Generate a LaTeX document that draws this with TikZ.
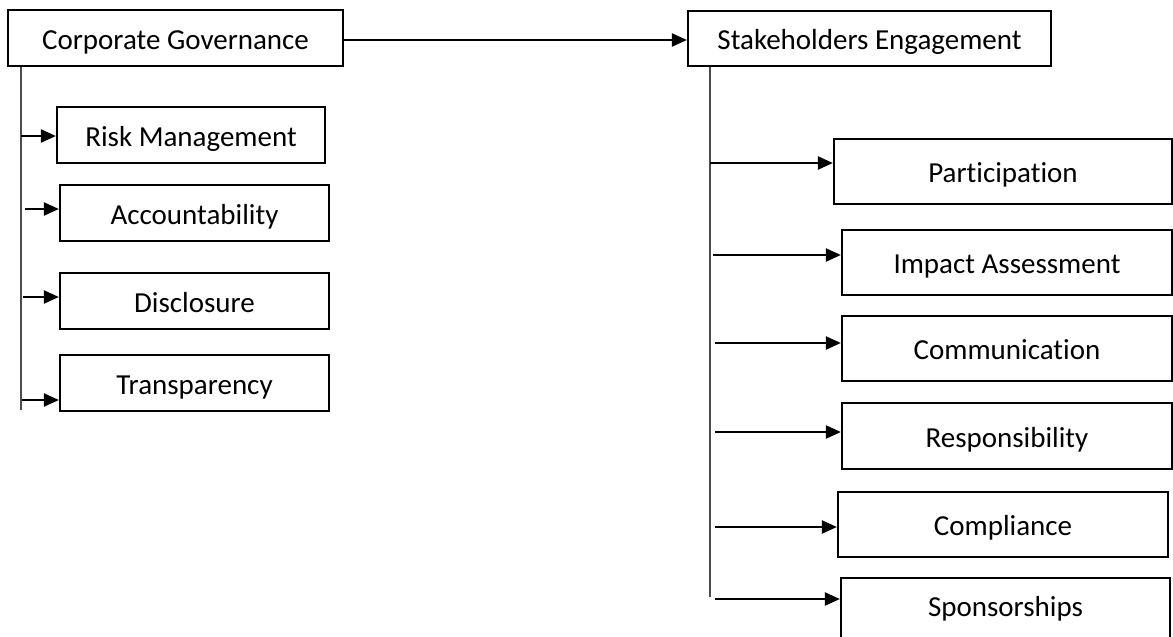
\documentclass[tikz,border=0pt]{standalone}
\usepackage{fontspec}
\setmainfont{Carlito}[Ligatures=NoCommon]
\usepackage{tikz}
\usetikzlibrary{arrows.meta, positioning, calc}

\begin{document}
\begin{tikzpicture}[
    x=1pt, y=-1pt,
    font=\fontsize{29}{34}\selectfont,
    every node/.style={text height=24pt, text depth=2pt},
    box/.style={draw, rectangle, line width=2.2pt, inner sep=0pt},
    cgbox/.style={box, minimum width=269pt, minimum height=56pt},
    sebox/.style={box, minimum width=330pt, minimum height=65pt},
    arr/.style={-{Triangle[length=15pt, width=13pt]}, line width=2.2pt},
    trunk/.style={line width=1.6pt, black!70},
]
\useasboundingbox (0, 0) rectangle (1173, 637);

% --- Heads ---
\node[box, minimum width=335pt, minimum height=56pt] (cg) at (175.5, 38) {Corporate Governance};
\node[box, minimum width=363pt, minimum height=55pt] (se) at (869.5, 38.5) {Stakeholders Engagement};

\draw[arr] (cg.east |- 0, 40) -- (se.west |- 0, 40);

% --- Corporate governance branch ---
\node[cgbox, minimum width=268pt] (risk) at (191, 135) {Risk Management};
\node[cgbox] (acc) at (194.5, 213) {Accountability};
\node[cgbox] (disc) at (194.5, 301) {Disclosure};
\node[cgbox] (trans) at (194.5, 383) {Transparency};

\coordinate (cgend) at (21, 410);
\draw[trunk] (cg.south -| cgend) -- (cgend);

\coordinate (c1) at (21, 136);
\coordinate (c2) at (25, 209);
\coordinate (c3) at (23, 297);
\coordinate (c4) at (22, 400);
\draw[arr] (c1) -- (c1 -| risk.west);
\draw[arr] (c2) -- (c2 -| acc.west);
\draw[arr] (c3) -- (c3 -| disc.west);
\draw[arr] (c4) -- (c4 -| trans.west);

% --- Stakeholders branch ---
\node[sebox, minimum width=338pt] (part) at (1003, 171.5) {Participation};
\node[sebox] (imp) at (1007, 262.5) {Impact Assessment};
\node[sebox] (comm) at (1007, 348.5) {Communication};
\node[sebox, minimum height=66pt] (resp) at (1007, 436) {Responsibility};
\node[sebox] (compl) at (1003, 524.5) {Compliance};
\node[sebox, minimum width=329pt] (spons) at (1005.5, 610.5) {};
\node at (1005.5, 605.5) {Sponsorships};

\coordinate (seend) at (710, 597);
\draw[trunk] (se.south -| seend) -- (seend);

\coordinate (s1) at (710, 163);
\coordinate (s2) at (713, 255);
\coordinate (s3) at (715, 343);
\coordinate (s4) at (715, 432);
\coordinate (s5) at (715, 527);
\coordinate (s6) at (715, 599);
\draw[arr] (s1) -- (s1 -| part.west);
\draw[arr] (s2) -- (s2 -| imp.west);
\draw[arr] (s3) -- (s3 -| comm.west);
\draw[arr] (s4) -- (s4 -| resp.west);
\draw[arr] (s5) -- (s5 -| compl.west);
\draw[arr] (s6) -- (s6 -| spons.west);

\end{tikzpicture}
\end{document}
